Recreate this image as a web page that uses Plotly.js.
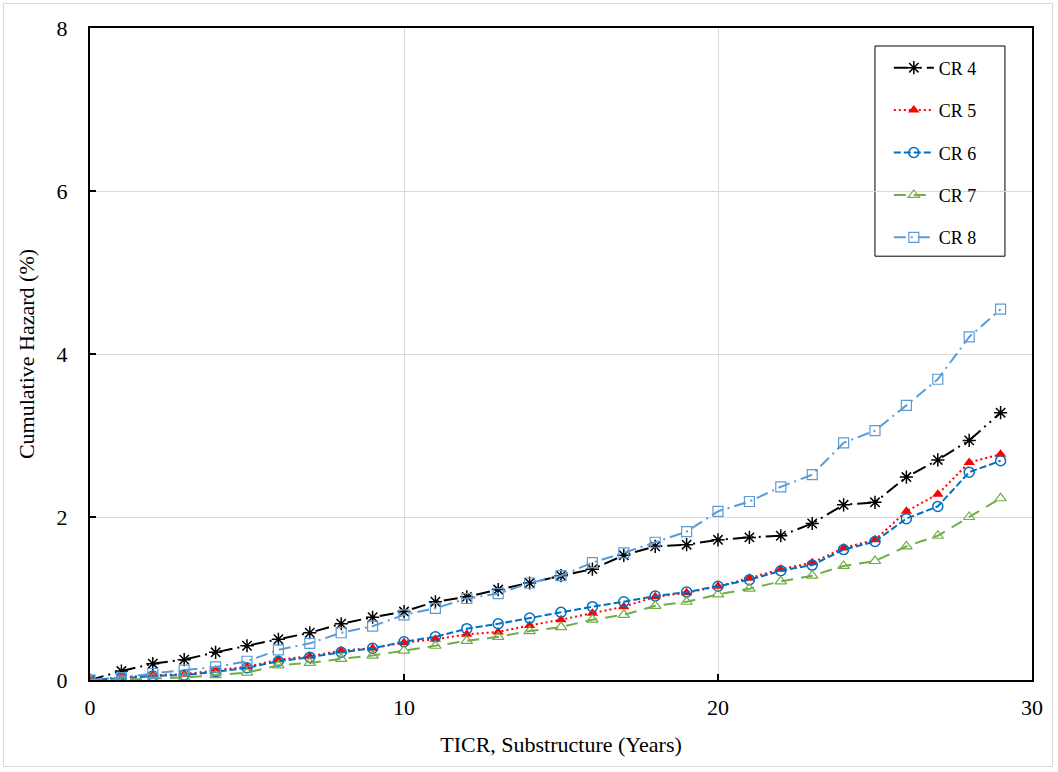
<!DOCTYPE html>
<html>
<head>
<meta charset="utf-8">
<script src="https://cdn.plot.ly/plotly-3.0.1.min.js"></script>
<style>
  html, body { margin: 0; padding: 0; background: #fff; }
  #wrap { position: relative; width: 1058px; height: 772px; }
  #frame { position: absolute; left: 3px; top: 3px; width: 1050px; height: 764px;
           border: 1px solid #d9d9d9; box-sizing: border-box; pointer-events: none; }
  #chart { width: 1058px; height: 772px; }
</style>
</head>
<body>
<div id="wrap">
  <div id="chart"></div>
  <div id="frame"></div>
</div>
<script>
// TICR years, 0..29
const years = [0,1,2,3,4,5,6,7,8,9,10,11,12,13,14,15,16,17,18,19,20,21,22,23,24,25,26,27,28,29];

// Cumulative hazard (%) by condition rating
const cr4 = [0,0.11,0.20,0.25,0.34,0.42,0.50,0.58,0.69,0.77,0.84,0.96,1.02,1.11,1.19,1.28,1.36,1.53,1.64,1.66,1.72,1.75,1.77,1.92,2.15,2.18,2.49,2.70,2.94,3.28];
const cr5 = [0,0.03,0.06,0.07,0.12,0.16,0.25,0.29,0.36,0.39,0.46,0.50,0.56,0.59,0.67,0.74,0.82,0.90,1.02,1.07,1.15,1.25,1.36,1.44,1.62,1.72,2.07,2.28,2.67,2.77];
const cr6 = [0,0.02,0.05,0.06,0.10,0.15,0.23,0.28,0.34,0.39,0.47,0.53,0.63,0.69,0.76,0.83,0.90,0.96,1.03,1.08,1.15,1.23,1.34,1.41,1.60,1.70,1.98,2.13,2.55,2.69];
const cr7 = [0,0.00,0.02,0.03,0.06,0.09,0.18,0.21,0.26,0.30,0.36,0.42,0.48,0.53,0.60,0.65,0.74,0.80,0.91,0.96,1.05,1.12,1.21,1.28,1.40,1.46,1.64,1.77,2.00,2.23];
const cr8 = [0,0.03,0.08,0.12,0.16,0.23,0.37,0.45,0.58,0.66,0.80,0.88,1.00,1.06,1.19,1.28,1.44,1.56,1.69,1.82,2.07,2.19,2.37,2.52,2.91,3.06,3.37,3.69,4.21,4.55];

const seriesNames = ['CR 4','CR 5','CR 6','CR 7','CR 8'];
const seriesData = [cr4, cr5, cr6, cr7, cr8];

const styles = [
  { color: '#000000', dash: '14px,5px,2px,5px,2px,5px', symbol: 'asterisk-open', size: 11, mline: 1.5 },
  { color: '#ff0000', dash: '2px,3px', symbol: 'triangle-up', size: 10, mline: 0 },
  { color: '#0070c0', dash: '7px,3px', symbol: 'circle-open', size: 10, mline: 1.5 },
  { color: '#70ad47', dash: '12px,8px', symbol: 'triangle-up-open', size: 10, mline: 1.2 },
  { color: '#5b9bd5', dash: '12px,5px,2px,5px', symbol: 'square-open', size: 10, mline: 1.2 }
];

const traces = seriesNames.map((name, i) => ({
  x: years,
  y: seriesData[i],
  name: name,
  type: 'scatter',
  mode: 'lines+markers',
  legendgroup: 'g' + i,
  line: { color: styles[i].color, width: 2, dash: styles[i].dash },
  marker: { symbol: styles[i].symbol, size: styles[i].size, color: styles[i].color,
            line: { color: styles[i].color, width: styles[i].mline } }
}));

const serif = 'Liberation Serif, Times New Roman, serif';

const layout = {
  width: 1058,
  height: 772,
  margin: { l: 90, r: 26, t: 28, b: 92 },
  paper_bgcolor: '#ffffff',
  plot_bgcolor: '#ffffff',
  font: { family: serif, color: '#000000', size: 22 },
  showlegend: true,
  legend: {
    x: 0.848, y: 0.967, xanchor: 'left', yanchor: 'top',
    bgcolor: 'rgba(0,0,0,0)', borderwidth: 0,
    font: { family: serif, size: 18, color: '#000000' },
    traceorder: 'grouped', tracegroupgap: 16,
    itemwidth: 40
  },
  // legend box outline
  shapes: [{
    type: 'rect', xref: 'paper', yref: 'paper',
    x0: 0.8333, x1: 0.9713, y0: 0.650, y1: 0.9724,
    line: { color: '#000000', width: 1 }, fillcolor: 'rgba(0,0,0,0)', layer: 'below'
  }],
  xaxis: {
    range: [0, 30], tickvals: [0, 10, 20, 30],
    showgrid: true, gridcolor: '#d9d9d9', gridwidth: 1,
    zeroline: false,
    showline: true, linecolor: '#000000', linewidth: 2, mirror: true,
    ticks: 'inside', ticklen: 6, tickcolor: '#000000', tickwidth: 1.5,
    ticklabelstandoff: 7,
    tickfont: { family: serif, size: 22 },
    title: { text: 'TICR, Substructure (Years)', font: { family: serif, size: 22 }, standoff: 17 }
  },
  yaxis: {
    range: [0, 8], tickvals: [0, 2, 4, 6, 8],
    showgrid: true, gridcolor: '#d9d9d9', gridwidth: 1,
    zeroline: false,
    showline: true, linecolor: '#000000', linewidth: 2, mirror: true,
    ticks: 'inside', ticklen: 6, tickcolor: '#000000', tickwidth: 1.5,
    ticklabelstandoff: 16,
    tickfont: { family: serif, size: 22 },
    title: { text: 'Cumulative Hazard (%)', font: { family: serif, size: 22 }, standoff: 16 }
  }
};

Plotly.newPlot('chart', traces, layout, { displayModeBar: false, staticPlot: true });
</script>
</body>
</html>
